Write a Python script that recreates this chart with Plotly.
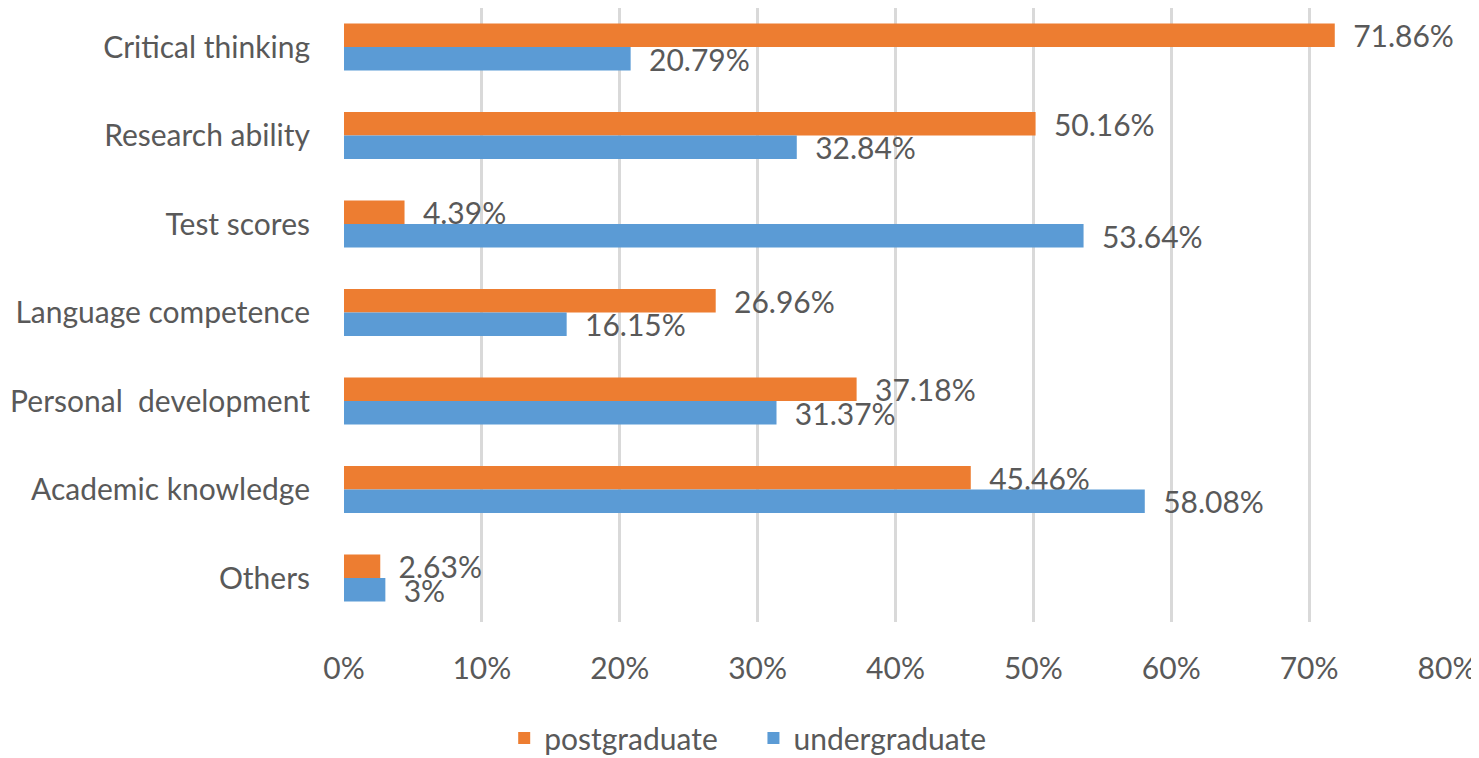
import plotly.graph_objects as go

categories = ["Critical thinking", "Research ability", "Test scores", "Language competence",
              "Personal  development", "Academic knowledge", "Others"]
postgraduate = [71.86, 50.16, 4.39, 26.96, 37.18, 45.46, 2.63]
undergraduate = [20.79, 32.84, 53.64, 16.15, 31.37, 58.08, 3]

FONT = "Lato"
GREY = "#595959"
SIZE = 30
NB = "\u00a0"

fig = go.Figure()

for name, vals, color in [("postgraduate" + NB * 4, postgraduate, "#ED7D31"),
                          ("undergraduate", undergraduate, "#5B9BD5")]:
    fig.add_trace(go.Bar(
        name=name,
        y=categories,
        x=[v / 100 for v in vals],
        orientation="h",
        marker=dict(color=color, line=dict(width=0)),
        text=[NB * 2 + f"{v:g}%" for v in vals],
        textposition="outside",
        constraintext="none",
        cliponaxis=False,
        textfont=dict(family=FONT, size=SIZE, color=GREY),
    ))

fig.update_layout(
    width=1479, height=758,
    barmode="group",
    bargap=0.47,
    bargroupgap=0,
    plot_bgcolor="white",
    paper_bgcolor="white",
    margin=dict(l=336, r=40, t=0, b=144),
    font=dict(family=FONT, size=SIZE, color=GREY),
    xaxis=dict(range=[0, 0.8], dtick=0.1, tickformat=".0%",
               showgrid=True, gridcolor="#D9D9D9", gridwidth=3,
               zeroline=False, showline=False, ticks="",
               ticklabelstandoff=26, automargin=False, tickangle=0,
               tickfont=dict(family=FONT, size=SIZE, color=GREY)),
    yaxis=dict(range=[6.497, -0.441], showgrid=False, zeroline=False,
               showline=False, ticks="", ticklabelstandoff=33, automargin=False,
               tickfont=dict(family=FONT, size=SIZE, color=GREY)),
    legend=dict(orientation="h", x=0.366, xanchor="center",
                y=-0.189, yanchor="middle", itemwidth=30,
                font=dict(family=FONT, size=SIZE, color=GREY)),
    showlegend=True,
)

fig.write_html("out.html")
